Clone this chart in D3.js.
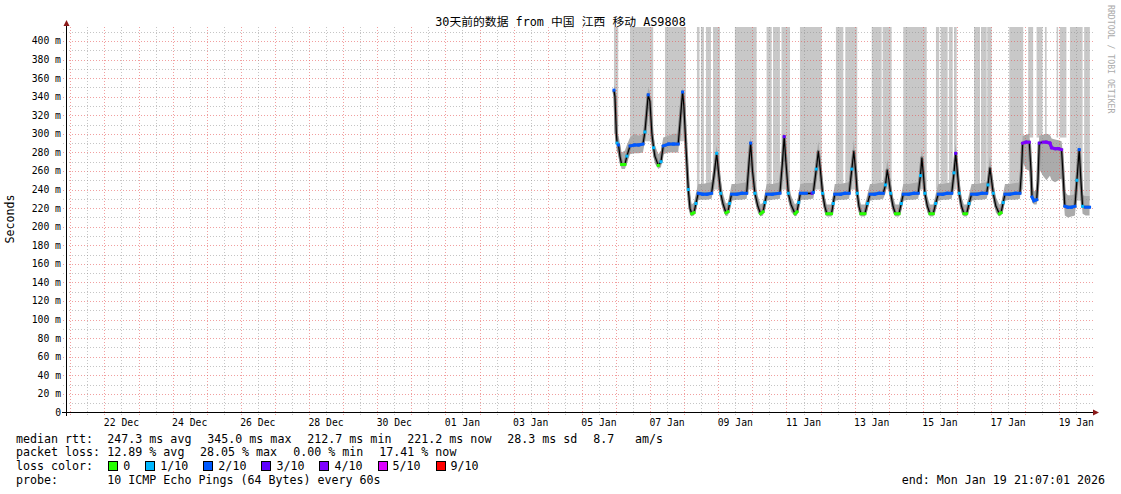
<!DOCTYPE html>
<html><head><meta charset="utf-8">
<script src="https://cdn.jsdelivr.net/npm/d3@7"></script>
<style>
body{margin:0;background:#fff;}
svg text{font-family:"DejaVu Sans Mono","Noto Sans CJK SC",monospace;}
</style></head><body>
<svg id="c" width="1121" height="494"></svg>
<script>
// ---------- data ----------
const startTime = "2025-12-20T21:07:01Z";
const endTime   = "2026-01-19T21:07:01Z";
const dataOrigin = "2026-01-06T00:00:00Z";   // hours below are offsets from this
const hours = [-1.4,-0.7,0.3,0.8,1.8,2.8,4.0,6.3,7.7,9.9,13,16,19,20.4,21.8,22.7,23.9,25.3,26.5,27.4,29.8,31.7,33.3,37,40.5,43.8,45,46.9,47.8,49.3,50.9,52.1,53.3,54.9,56.3,57.9,61,64,67.3,69,70.9,72.1,73.7,75.3,77.4,78.8,80,81.4,85,88.5,92,93.6,94.8,96.1,97.8,99.9,101.8,103.5,104.8,106.1,110,115.4,117.2,118.4,119.6,121.3,123.2,126,127.4,128.6,129.8,134,138,138.9,141,142.4,143.8,145.4,147,148.4,151.7,152.9,154,158,161,164.1,166,167.4,168.8,169.8,171,172.4,175.2,177,178.8,182,185,188.1,189.7,190.9,192.1,193.3,195,196.7,199.2,200.8,202.2,206,209.5,212.7,214.3,215.3,216.4,217.4,219.2,221,223.3,225,226.8,230,233,236.3,237.9,239.1,240.3,241.6,243.2,244.9,246.8,248.5,250.3,254,257.5,260.9,261.8,263.2,264.3,265.5,267.4,269.8,271,272.5,273.8,277,281,284.3,285.4,286.2,288.5,290.9,292.1,292.8,294.2,296.1,297,297.9,300.5,303,305.4,306.6,309,311.5,313.6,314.5,315.9,318,320.5,323,324.4,326,327.2,328.4,330.5,333.3];
const median = [347,340,300,290,288,276,267,267,276,287,288,288,289,302,326,342,335,300,285,276,266,270,287,289,289,289,310,345,330,285,240,220,214,215,225,236,235,235,236,255,279,260,236,225,215,216,225,235,235,236,236,268,290,260,236,222,214,216,226,235,235,236,270,297,270,236,224,214,216,226,236,236,236,237,262,281,262,236,222,214,214,225,235,235,236,236,262,281,258,236,222,214,214,225,235,235,236,236,245,261,250,236,222,214,214,225,235,235,236,236,255,274,255,236,222,214,214,225,235,235,236,236,258,279,258,236,222,214,214,225,235,235,236,236,245,263,250,236,222,214,215,226,235,235,236,236,260,290,291,291,260,232,228,229,250,290,291,291,290,285,284,284,283,260,222,221,221,222,250,283,250,222,221,221];
const smokeLo = [330,320,285,280,278,268,262,262,268,278,279,279,280,292,315,330,320,288,275,268,262,264,278,280,280,280,298,330,315,270,230,214,211,212,218,229,229,229,230,244,265,248,228,218,211,212,218,228,229,229,230,255,275,248,228,215,211,212,219,228,229,230,256,280,256,228,216,211,212,219,229,229,230,230,250,265,250,228,215,211,211,218,228,229,229,230,250,266,246,228,215,211,211,218,228,229,229,230,236,248,240,228,215,211,211,218,228,229,229,230,244,260,244,228,215,211,211,218,228,229,229,230,246,264,246,228,215,211,211,218,228,229,229,230,236,250,240,228,215,211,212,219,228,229,229,230,248,270,262,260,240,226,224,224,236,262,255,250,255,250,248,250,252,240,212,210,211,212,236,265,236,214,212,212];
const smokeHi = [352,350,320,300,298,290,280,282,288,296,300,298,300,312,338,350,345,315,296,288,278,282,296,298,300,300,322,350,342,300,260,235,224,226,236,246,246,247,248,266,288,272,250,236,225,226,235,246,246,247,248,278,298,272,250,233,224,226,236,246,246,248,282,302,282,250,234,224,226,236,246,247,247,248,275,292,275,250,232,224,224,235,246,246,247,248,274,294,270,250,232,224,224,235,246,246,247,248,256,272,262,248,232,224,224,235,246,246,247,248,266,285,268,250,232,224,224,235,246,246,247,248,270,290,270,250,232,224,224,235,246,246,247,248,256,276,262,248,232,224,225,236,246,246,247,248,275,298,299,300,280,248,238,240,270,298,299,300,299,295,294,293,292,280,238,234,234,235,262,290,262,234,233,233];
const lossClass = [2,-1,-1,1,2,-1,0,0,1,2,2,2,2,1,-1,2,-1,-1,1,-1,0,1,2,2,2,2,-1,2,-1,-1,1,-1,0,0,1,2,2,2,2,-1,1,-1,1,-1,0,0,1,2,2,2,2,-1,2,-1,1,-1,0,0,1,2,2,2,-1,3,-1,1,-1,0,0,1,2,2,3,2,1,-1,-1,1,-1,0,0,1,2,2,2,2,1,-1,-1,1,-1,0,0,1,2,2,2,2,1,-1,-1,1,-1,0,0,1,2,2,2,2,1,-1,-1,1,-1,0,0,1,2,2,2,2,1,3,-1,1,-1,0,0,1,2,2,2,2,1,-1,-1,1,-1,0,0,1,2,2,2,2,-1,4,4,4,-1,2,2,2,-1,3,4,4,4,4,4,4,4,-1,2,2,2,2,1,2,-1,1,2,2];
// grey high-latency bands (hours from dataOrigin) and their lower edge (ms)
const bandStart = [-1.4,9.9,34.5,57.0,59.8,63.3,68.3,83.7,106.0,110.5,116.5,129.5,154.8,161.4,180.0,187.7,202.2,225.2,228.5,234.3,237.9,252.0,256.9,261.3,276.8,290.1,296.0,301.9,310.1,312.3,319.5,329.5];
const bandEnd   = [1.6,26.2,49.3,58.8,61.9,66.9,73.2,99.0,109.6,115.4,122.5,144.8,160.0,169.8,187.0,194.0,218.7,227.5,233.4,237.0,239.8,256.2,260.9,264.4,286.6,293.6,300.2,303.1,311.2,317.0,328.4,333.5];
const bandLow   = [300,292,292,240,240,240,240,240,240,240,240,240,240,240,240,240,240,240,240,240,240,240,240,240,240,296,296,296,296,296,228,228];

const yTicks = [0,20,40,60,80,100,120,140,160,180,200,220,240,260,280,300,320,340,360,380,400];
const yTickLabels = ["0","20 m","40 m","60 m","80 m","100 m","120 m","140 m","160 m","180 m","200 m","220 m","240 m","260 m","280 m","300 m","320 m","340 m","360 m","380 m","400 m"];
const xTickDates = ["2025-12-22","2025-12-24","2025-12-26","2025-12-28","2025-12-30","2026-01-01","2026-01-03","2026-01-05","2026-01-07","2026-01-09","2026-01-11","2026-01-13","2026-01-15","2026-01-17","2026-01-19"];
const xTickLabels = ["22 Dec","24 Dec","26 Dec","28 Dec","30 Dec","01 Jan","03 Jan","05 Jan","07 Jan","09 Jan","11 Jan","13 Jan","15 Jan","17 Jan","19 Jan"];

const lossLegendLabels = ["0","1/10","2/10","3/10","4/10","5/10","9/10"];
const lossLegendColors = ["#26ff00","#00b8ff","#0059ff","#5e00ff","#7e00ff","#dd00ff","#ff0000"];
const rttStats = ["247.3 ms avg","345.0 ms max","212.7 ms min","221.2 ms now","28.3 ms sd"];
const amStat = "8.7";
const lossStats = ["12.89 % avg","28.05 % max","0.00 % min","17.41 % now"];
const titleText = "30天前的数据 from  中国 江西 移动 AS9808";
const probeText = "10 ICMP Echo Pings (64 Bytes) every 60s";
const endText = "end: Mon Jan 19 21:07:01 2026";

// ---------- scales ----------
const svg = d3.select("#c");
const t0 = new Date(startTime), t1 = new Date(endTime), origin = new Date(dataOrigin);
const x = d3.scaleUtc().domain([t0, t1]).range([66.2, 1089.3]);
const y = d3.scaleLinear().domain([0, 415]).range([412.5, 27]);
const toDate = h => new Date(origin.getTime() + h * 3600e3);
const pts = hours.map((h, i) => ({t: toDate(h), m: median[i], lo: smokeLo[i], hi: smokeHi[i], c: lossClass[i]}));
const lossColors = lossLegendColors;
const gridRight = 1093, gridTop = y(415);

// ---------- bands ----------
svg.append("g").selectAll("rect").data(bandStart).join("rect")
  .attr("x", (d, i) => x(toDate(d)))
  .attr("width", (d, i) => x(toDate(bandEnd[i])) - x(toDate(d)))
  .attr("y", gridTop)
  .attr("height", (d, i) => y(bandLow[i]) - gridTop)
  .attr("fill", "#c8c8c8");

// ---------- smoke ----------
svg.append("path").datum(pts)
  .attr("d", d3.area().x(d => x(d.t)).y0(d => y(d.lo)).y1(d => y(d.hi)))
  .attr("fill", "#ababab");
svg.append("path").datum(pts)
  .attr("d", d3.line().x(d => x(d.t)).y(d => y(d.m)))
  .attr("fill", "none").attr("stroke", "#7c7c7c").attr("stroke-width", 3.2).attr("stroke-linejoin", "round");

// ---------- grid ----------
const grid = svg.append("g").attr("shape-rendering", "crispEdges");
const minorH = d3.range(10, 415, 20);
grid.selectAll(".hmin").data(minorH).join("line")
  .attr("x1", 63).attr("x2", gridRight).attr("y1", d => Math.round(y(d)) + 0.5).attr("y2", d => Math.round(y(d)) + 0.5)
  .attr("stroke", "rgba(140,140,140,0.5)").attr("stroke-dasharray", "1,2");
grid.selectAll(".hmaj").data(yTicks.slice(1)).join("line")
  .attr("x1", 63).attr("x2", gridRight).attr("y1", d => Math.round(y(d)) + 0.5).attr("y2", d => Math.round(y(d)) + 0.5)
  .attr("stroke", "rgba(230,80,80,0.55)").attr("stroke-dasharray", "1,2");
const minorV = d3.utcHour.every(12).range(t0, t1).filter(d => d.getUTCHours() === 12);
grid.selectAll(".vmin").data(minorV).join("line")
  .attr("x1", d => Math.round(x(d)) + 0.5).attr("x2", d => Math.round(x(d)) + 0.5).attr("y1", gridTop).attr("y2", 415)
  .attr("stroke", "rgba(140,140,140,0.5)").attr("stroke-dasharray", "1,2");
const majorV = d3.utcDay.range(t0, t1);
grid.selectAll(".vmaj").data(majorV).join("line")
  .attr("x1", d => Math.round(x(d)) + 0.5).attr("x2", d => Math.round(x(d)) + 0.5).attr("y1", gridTop).attr("y2", 415)
  .attr("stroke", "rgba(230,80,80,0.55)").attr("stroke-dasharray", "1,2");

// ---------- median ----------
svg.append("path").datum(pts)
  .attr("d", d3.line().x(d => x(d.t)).y(d => y(d.m)))
  .attr("fill", "none").attr("stroke", "#000").attr("stroke-width", 1.2).attr("stroke-linejoin", "round");
const segG = svg.append("g");
pts.forEach((p, i) => {
  if (p.c < 0) return;
  const nextSame = i + 1 < pts.length && pts[i + 1].c === p.c && p.c !== 1;
  const prevSame = i > 0 && pts[i - 1].c === p.c && p.c !== 1;
  if (nextSame) {
    segG.append("line").attr("x1", x(p.t)).attr("y1", y(p.m)).attr("x2", x(pts[i + 1].t)).attr("y2", y(pts[i + 1].m))
      .attr("stroke", lossColors[p.c]).attr("stroke-width", 3).attr("stroke-linecap", "square");
  }
  if (!nextSame && !prevSame) {
    segG.append("rect").attr("x", x(p.t) - 1.5).attr("y", y(p.m) - 1.5).attr("width", 3).attr("height", 3)
      .attr("fill", lossColors[p.c]);
  }
});

// ---------- axes ----------
const ax = svg.append("g").attr("shape-rendering", "crispEdges");
ax.append("line").attr("x1", 66.5).attr("x2", 66.5).attr("y1", 416).attr("y2", 24).attr("stroke", "#000");
ax.append("line").attr("x1", 62).attr("x2", 1094).attr("y1", 412.5).attr("y2", 412.5).attr("stroke", "#000");
svg.append("path").attr("d", "M63.5,26L69.5,26L66.5,20Z").attr("fill", "#8b1a1a");
svg.append("path").attr("d", "M1093,409.5L1093,415.5L1099,412.5Z").attr("fill", "#8b1a1a");

svg.append("g").selectAll("text").data(yTicks).join("text")
  .attr("x", 61).attr("y", d => y(d)).attr("dy", "0.35em").attr("text-anchor", "end")
  .attr("font-size", "9.75px").attr("fill", "#000").text((d, i) => yTickLabels[i]);
svg.append("g").selectAll("text").data(xTickDates).join("text")
  .attr("x", d => x(d3.utcHour.offset(new Date(d + "T00:00:00Z"), 12))).attr("y", 425.5).attr("text-anchor", "middle")
  .attr("font-size", "9.75px").attr("fill", "#000").text((d, i) => xTickLabels[i]);

// ---------- texts ----------
svg.append("text").attr("x", 560.5).attr("y", 26).attr("text-anchor", "middle").attr("font-size", "11.8px").text(titleText);
svg.append("text").attr("transform", "translate(14,219) rotate(-90)").attr("text-anchor", "middle").attr("font-size", "11.65px").text("Seconds");
svg.append("text").attr("transform", "translate(1107.5,5) rotate(90)").attr("font-size", "8.2px").attr("fill", "#aaa").text("RRDTOOL / TOBI OETIKER");

const fs = "11.65px";
const rows = [442.5, 456.2, 469.9, 483.6];
const tx = (xx, yy, s) => svg.append("text").attr("x", xx).attr("y", yy).attr("font-size", fs).attr("xml:space", "preserve").text(s);
tx(16, rows[0], "median rtt:");
rttStats.forEach((s, i) => tx(107.3 + 100 * i, rows[0], s));
tx(593.3, rows[0], amStat);
tx(635, rows[0], "am/s");
tx(16, rows[1], "packet loss:");
const lossX = [107.3, 200, 293.3, 379.3];
lossStats.forEach((s, i) => tx(lossX[i], rows[1], s));
tx(16, rows[2], "loss color:");
let lx = 108.3;
lossLegendLabels.forEach((lab, i) => {
  svg.append("rect").attr("x", lx + 0.5).attr("y", 461.5).attr("width", 9).attr("height", 9)
    .attr("fill", lossLegendColors[i]).attr("stroke", "#000").attr("stroke-width", 1).attr("shape-rendering", "crispEdges");
  const t = tx(lx + 15, rows[2], lab);
  lx = lx + 15 + t.node().getComputedTextLength() + 15;
});
tx(16, rows[3], "probe:");
tx(107.3, rows[3], probeText);
svg.append("text").attr("x", 1105).attr("y", rows[3]).attr("text-anchor", "end").attr("font-size", fs).text(endText);
</script>
</body></html>
